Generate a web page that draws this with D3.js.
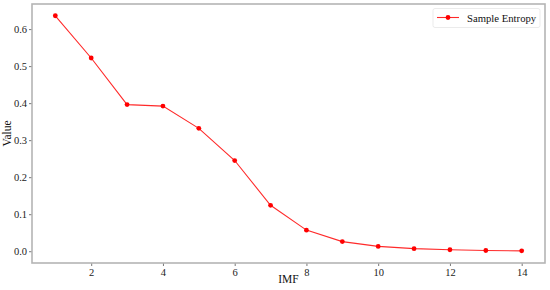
<!DOCTYPE html>
<html><head><meta charset="utf-8">
<script src="https://cdn.jsdelivr.net/npm/d3@7"></script>
<style>body{margin:0;background:#fff}svg{display:block}text{font-family:'Liberation Serif','Times New Roman',serif}</style>
</head><body>
<svg id="c" width="550" height="290"></svg>
<script>
const imf = [1,2,3,4,5,6,7,8,9,10,11,12,13,14];
const sampleEntropy = [0.636,0.522,0.396,0.392,0.332,0.245,0.124,0.057,0.026,0.013,0.007,0.004,0.002,0.001];
const xTicks = [2,4,6,8,10,12,14];
const yTicks = [0.0,0.1,0.2,0.3,0.4,0.5,0.6];
const seriesName = "Sample Entropy";

const svg = d3.select("#c");
const m = {l:32, r:5, t:4, b:27};
const W = 550, H = 290;
const x = d3.scaleLinear().domain([0.35,14.65]).range([m.l, W-m.r]);
const y = d3.scaleLinear().domain([-0.0318,0.6678]).range([H-m.b, m.t]);
const font = "'Liberation Serif','Times New Roman',serif";

const xa = svg.append("g").attr("transform",`translate(0,${H-m.b})`)
  .call(d3.axisBottom(x).tickValues(xTicks).tickFormat(d3.format("d")).tickSize(3).tickPadding(3));
const ya = svg.append("g").attr("transform",`translate(${m.l},0)`)
  .call(d3.axisLeft(y).tickValues(yTicks).tickFormat(d3.format(".1f")).tickSize(3).tickPadding(2));
[xa,ya].forEach(a=>{
  a.attr("font-family",font).style("font-family",font);
  a.select(".domain").remove();
  a.selectAll("line").attr("stroke","#555").attr("stroke-width",0.8);
  a.selectAll("text").style("font-family",font).attr("font-size",10.5).attr("fill","#222");
});

svg.append("rect").attr("x",m.l).attr("y",m.t).attr("width",W-m.l-m.r).attr("height",H-m.t-m.b)
  .attr("fill","none").attr("stroke","#b5b5b5").attr("stroke-width",1.6);

const data = imf.map((d,i)=>({x:d,y:sampleEntropy[i]}));
svg.append("path").datum(data)
  .attr("fill","none").attr("stroke","#ff2a2a").attr("stroke-width",1.1)
  .attr("d", d3.line().x(d=>x(d.x)).y(d=>y(d.y)));
svg.append("g").selectAll("circle").data(data).join("circle")
  .attr("cx",d=>x(d.x)).attr("cy",d=>y(d.y)).attr("r",2.4).attr("fill","#f00");

svg.append("text").attr("x",(m.l+W-m.r)/2).attr("y",283).attr("text-anchor","middle")
  .style("font-family",font).attr("font-size",11.5).attr("fill","#111").text("IMF");
svg.append("text").attr("transform",`translate(11,${(m.t+H-m.b)/2}) rotate(-90)`).attr("text-anchor","middle")
  .style("font-family",font).attr("font-size",11.5).attr("fill","#111").text("Value");

const lg = svg.append("g");
lg.append("rect").attr("x",433).attr("y",8.5).attr("width",107).attr("height",19).attr("rx",2)
  .attr("fill","#fff").attr("stroke","#e6e6e6").attr("stroke-width",0.8);
lg.append("line").attr("x1",437).attr("x2",459).attr("y1",17.5).attr("y2",17.5)
  .attr("stroke","#ff2a2a").attr("stroke-width",1.1);
lg.append("circle").attr("cx",448).attr("cy",17.5).attr("r",2.4).attr("fill","#f00");
lg.append("text").attr("x",467).attr("y",21.5).style("font-family",font).attr("font-size",10.7)
  .attr("fill","#111").text(seriesName);
</script>
</body></html>
